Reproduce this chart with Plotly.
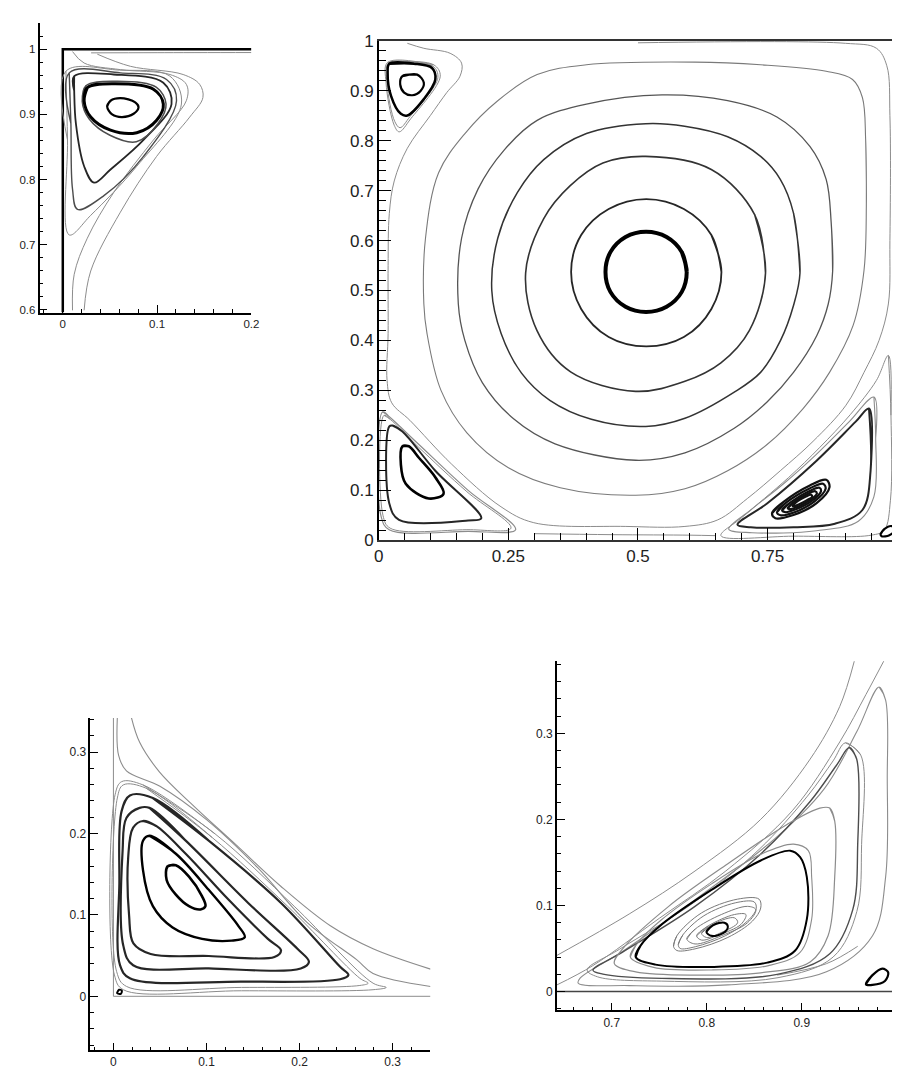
import plotly.graph_objects as go

# ---------------- Panel A : top-left corner vortex (zoom) ----------------
A_IN = [(0.047, 0.9125), (0.0506, 0.921), (0.0611, 0.925), (0.0768, 0.9186), (0.0803, 0.911),
        (0.0751, 0.901), (0.0628, 0.896), (0.0523, 0.900)]
A_L2 = [(0.0226, 0.921), (0.026, 0.941), (0.0541, 0.947), (0.0961, 0.9386), (0.1066, 0.916),
        (0.0995, 0.891), (0.0785, 0.872), (0.0506, 0.8758), (0.0296, 0.896)]
A_L2B = [(0.0206, 0.92), (0.0245, 0.944), (0.054, 0.951), (0.099, 0.942), (0.1095, 0.916),
         (0.101, 0.886), (0.078, 0.858), (0.050, 0.868), (0.028, 0.893)]
A_L3 = [(0.0121, 0.9362), (0.0121, 0.9588), (0.0541, 0.9613), (0.1066, 0.9487), (0.1153, 0.916),
        (0.0856, 0.8608), (0.0506, 0.8155), (0.0331, 0.7953), (0.0226, 0.8205), (0.0139, 0.8858)]
A_L4 = [(0.0086, 0.8858), (0.0068, 0.9638), (0.0611, 0.9638), (0.110, 0.9537), (0.1206, 0.921),
        (0.0856, 0.8356), (0.0436, 0.7753), (0.0156, 0.7541), (0.0103, 0.7854)]
A_L5 = [(0.005, 0.8608), (0.0033, 0.9664), (0.06, 0.968), (0.1136, 0.9588), (0.1258, 0.916),
        (0.0785, 0.8205), (0.0296, 0.7451), (0.0068, 0.715)]
A_OA = [(0.0103, 0.9965), (0.0226, 0.9789), (0.0611, 0.9688), (0.1136, 0.9613), (0.131, 0.9462),
        (0.131, 0.9211), (0.0961, 0.8608), (0.054, 0.7802), (0.026, 0.71), (0.0121, 0.6546), (0.0103, 0.5993)]
A_OB = [(0.0366, 0.9925), (0.0716, 0.9739), (0.1276, 0.9613), (0.1451, 0.9462), (0.1486, 0.926),
        (0.1346, 0.896), (0.0995, 0.8356), (0.0611, 0.75), (0.0296, 0.6596), (0.0226, 0.5993)]
A_LID = [(0.03, 0.9945), (0.1, 0.9948), (0.2, 0.995)]
A_WALL = [(0.0, 0.5958), (0.0, 1.0), (0.2, 1.0)]

# ---------------- Panel B : full cavity ----------------
B_C1 = [(0.594, 0.537), (0.5845, 0.5768), (0.5552, 0.607), (0.5156, 0.6176), (0.476, 0.607),
        (0.4468, 0.5768), (0.4373, 0.537), (0.4468, 0.4972), (0.476, 0.4674), (0.5156, 0.457),
        (0.5552, 0.4674), (0.5845, 0.4972)]
B_C2 = [(0.661, 0.537), (0.6416, 0.611), (0.5885, 0.6632), (0.516, 0.683), (0.4435, 0.6632),
        (0.3904, 0.611), (0.371, 0.537), (0.3904, 0.463), (0.4435, 0.4068), (0.516, 0.388),
        (0.5885, 0.4068), (0.6416, 0.463)]
B_C3 = [(0.746, 0.535), (0.725, 0.652), (0.6414, 0.7423), (0.515, 0.7685), (0.4323, 0.7553),
        (0.3688, 0.7095), (0.3182, 0.644), (0.2833, 0.535), (0.305, 0.42), (0.37, 0.337),
        (0.4956, 0.298), (0.5906, 0.318), (0.66, 0.355), (0.715, 0.42)]
B_C4 = [(0.8125, 0.535), (0.8, 0.655), (0.7745, 0.7226), (0.7365, 0.7685), (0.673, 0.8078),
        (0.59, 0.829), (0.515, 0.834), (0.4006, 0.8143), (0.3182, 0.762), (0.2675, 0.6963),
        (0.2295, 0.6046), (0.218, 0.5), (0.236, 0.414), (0.275, 0.335), (0.33, 0.28),
        (0.41, 0.242), (0.515, 0.2276), (0.5906, 0.244), (0.6857, 0.2964), (0.7365, 0.336),
        (0.775, 0.40), (0.8, 0.47)]
B_C5 = [(0.8755, 0.5387), (0.8726, 0.637), (0.863, 0.7226), (0.8316, 0.7885), (0.768, 0.8475),
        (0.673, 0.880), (0.5464, 0.8917), (0.4006, 0.8733), (0.3055, 0.8407), (0.2422, 0.7817),
        (0.1914, 0.703), (0.1597, 0.6046), (0.1534, 0.4734), (0.166, 0.40), (0.20, 0.315),
        (0.26, 0.243), (0.34, 0.193), (0.4956, 0.16), (0.5906, 0.175), (0.6857, 0.2242),
        (0.749, 0.2767), (0.80, 0.336), (0.845, 0.41), (0.867, 0.473)]
B_C6 = [(0.9405, 0.6702), (0.9392, 0.8013), (0.9329, 0.8865), (0.9139, 0.9225), (0.863, 0.939),
        (0.7365, 0.952), (0.6096, 0.9573), (0.4006, 0.952), (0.3055, 0.9323), (0.2295, 0.88),
        (0.1662, 0.8143), (0.1154, 0.7357), (0.0901, 0.6046), (0.0869, 0.4734), (0.093, 0.414),
        (0.12, 0.30), (0.17, 0.215), (0.25, 0.145), (0.35, 0.105), (0.4956, 0.09), (0.5906, 0.103),
        (0.673, 0.139), (0.749, 0.1916), (0.8185, 0.2636), (0.8695, 0.336), (0.915, 0.43),
        (0.936, 0.54)]
B_C7 = [(0.0551, 0.995), (0.0869, 0.985), (0.1376, 0.975), (0.1597, 0.9553), (0.1566, 0.929),
        (0.1312, 0.8964), (0.0996, 0.8505), (0.0551, 0.7848), (0.0298, 0.7193), (0.0203, 0.6538),
        (0.018, 0.55), (0.018, 0.414), (0.016, 0.32), (0.025, 0.275), (0.06, 0.24), (0.1407, 0.152),
        (0.2357, 0.0669), (0.299, 0.035), (0.4766, 0.0275), (0.5906, 0.0275), (0.654, 0.0407),
        (0.711, 0.0834), (0.7745, 0.139), (0.8378, 0.198), (0.9012, 0.2702), (0.936, 0.336),
        (0.965, 0.40), (0.983, 0.473), (0.986, 0.6), (0.986, 0.85), (0.98, 0.95), (0.96, 0.985),
        (0.9, 0.995), (0.5, 0.996)]
B_C8 = [(0.30, 0.013), (0.45, 0.011), (0.60, 0.010), (0.65, 0.009)]
B_TL_IN = [(0.0456, 0.9292), (0.0741, 0.9323), (0.0869, 0.916), (0.0806, 0.8997), (0.0646, 0.891),
           (0.0489, 0.8963), (0.0413, 0.9127)]
B_TL_MID = [(0.0203, 0.954), (0.0679, 0.954), (0.1027, 0.9455), (0.1091, 0.9225), (0.0869, 0.8832),
            (0.0551, 0.8505), (0.0426, 0.8537), (0.0236, 0.8898), (0.0171, 0.9357)]
B_TL_OUT = [(0.0171, 0.9567), (0.1059, 0.952), (0.1186, 0.9292), (0.0616, 0.8438), (0.0394, 0.8177),
            (0.0298, 0.8308), (0.014, 0.916)]
B_TL_OUT2 = [(0.019, 0.9555), (0.104, 0.9495), (0.114, 0.926), (0.06, 0.848), (0.041, 0.826),
             (0.031, 0.838), (0.016, 0.914)]
B_LL_IN = [(0.0458, 0.188), (0.058, 0.188), (0.0774, 0.165), (0.109, 0.126), (0.125, 0.0932),
           (0.0964, 0.0834), (0.052, 0.113), (0.0426, 0.152)]
B_LL_MID = [(0.0266, 0.2295), (0.0456, 0.2177), (0.109, 0.139), (0.1977, 0.044), (0.1724, 0.0393),
            (0.039, 0.0407), (0.0203, 0.0735), (0.0203, 0.2277)]
B_LL_OUT = [(0.0076, 0.257), (0.0203, 0.247), (0.0774, 0.1916), (0.1724, 0.0997), (0.264, 0.021),
            (0.1724, 0.0177), (0.02, 0.021), (0.0046, 0.047)]
B_LL_OUT2 = [(0.010, 0.25), (0.022, 0.242), (0.077, 0.186), (0.17, 0.097), (0.255, 0.024),
             (0.17, 0.021), (0.022, 0.024), (0.008, 0.05)]
B_LR_G1 = [(0.983, 0.37), (0.988, 0.25), (0.987, 0.08), (0.975, 0.02), (0.95, 0.01), (0.80, 0.008),
           (0.66, 0.009), (0.70, 0.045), (0.79, 0.125), (0.85, 0.185), (0.91, 0.252), (0.96, 0.32)]
B_LR_G2 = [(0.9551, 0.2866), (0.9585, 0.2046), (0.955, 0.0866), (0.925, 0.038), (0.844, 0.019),
           (0.72, 0.015), (0.675, 0.022), (0.7175, 0.0604), (0.7808, 0.1129), (0.8441, 0.1719),
           (0.9076, 0.2374)]
B_LR_THK = [(0.9456, 0.2636), (0.9487, 0.139), (0.9329, 0.0604), (0.88, 0.033), (0.80, 0.026),
            (0.7175, 0.026), (0.692, 0.0309), (0.749, 0.0735), (0.844, 0.1587), (0.920, 0.2374)]
B_LR_B1 = [(0.7586, 0.0539), (0.7808, 0.0767), (0.8315, 0.1096), (0.8631, 0.1208), (0.8695, 0.1062),
           (0.844, 0.0735), (0.7998, 0.0505), (0.765, 0.044)]
B_LR_B2 = [(0.768, 0.056), (0.787, 0.076), (0.830, 0.103), (0.857, 0.113), (0.862, 0.103),
           (0.840, 0.077), (0.802, 0.056), (0.775, 0.050)]
B_LR_B3 = [(0.778, 0.060), (0.795, 0.076), (0.828, 0.097), (0.850, 0.105), (0.853, 0.098),
           (0.836, 0.079), (0.805, 0.062), (0.784, 0.056)]
B_LR_B4 = [(0.789, 0.064), (0.802, 0.077), (0.826, 0.092), (0.842, 0.098), (0.845, 0.093),
           (0.832, 0.080), (0.808, 0.067), (0.793, 0.062)]
B_LR_B5 = [(0.798, 0.069), (0.808, 0.078), (0.823, 0.087), (0.834, 0.091), (0.836, 0.087),
           (0.826, 0.080), (0.811, 0.072), (0.801, 0.068)]
B_LR_CORNER = [(0.968, 0.012), (0.975, 0.022), (0.99, 0.028), (0.995, 0.02), (0.985, 0.01), (0.97, 0.008)]

# ---------------- Panel C : bottom-left corner vortex (zoom) ----------------
C_L1 = [(0.0583, 0.1598), (0.0671, 0.161), (0.0812, 0.147), (0.0953, 0.1228), (0.0989, 0.1107),
        (0.0936, 0.1067), (0.0812, 0.1107), (0.0671, 0.1248), (0.0572, 0.1429)]
C_L2 = [(0.0388, 0.1973), (0.0671, 0.1751), (0.1024, 0.1308), (0.1342, 0.0866), (0.1412, 0.0725),
        (0.1271, 0.0684), (0.0953, 0.0705), (0.0636, 0.0845), (0.0424, 0.1107), (0.0318, 0.155),
        (0.0318, 0.1912)]
C_L3 = [(0.0318, 0.2154), (0.0459, 0.2093), (0.0777, 0.1751), (0.1236, 0.1188), (0.166, 0.0705),
        (0.1801, 0.0564), (0.173, 0.0483), (0.1024, 0.0495), (0.04, 0.052), (0.0215, 0.065),
        (0.0169, 0.0986), (0.0159, 0.1711), (0.0212, 0.2073)]
C_L4 = [(0.0388, 0.2315), (0.0777, 0.1912), (0.1448, 0.1147), (0.1977, 0.0584), (0.2101, 0.0423),
        (0.2013, 0.0342), (0.1024, 0.0342), (0.0212, 0.0382), (0.0106, 0.0624), (0.0099, 0.1791),
        (0.0141, 0.2194), (0.0282, 0.2315)]
C_L5 = [(0.0424, 0.2436), (0.1024, 0.1912), (0.1801, 0.1147), (0.2436, 0.0362), (0.2525, 0.0262),
        (0.2436, 0.0209), (0.1377, 0.0181), (0.0177, 0.0221), (0.0071, 0.0382), (0.0064, 0.1389),
        (0.0088, 0.2275), (0.0177, 0.2468)]
C_G1 = [(0.0318, 0.2597), (0.1095, 0.1993), (0.1942, 0.1107), (0.279, 0.0161), (0.2931, 0.0109),
        (0.279, 0.0081), (0.1377, 0.0068), (0.0106, 0.0081), (0.0011, 0.0262), (0.0018, 0.2476),
        (0.0088, 0.2637)]
C_G2 = [(0.0353, 0.2556), (0.1059, 0.1953), (0.1871, 0.1107), (0.2648, 0.0221), (0.2737, 0.0161),
        (0.2648, 0.0133), (0.1377, 0.0109), (0.0141, 0.0121), (0.0035, 0.0302), (0.0042, 0.2436),
        (0.0106, 0.2597)]
C_OA = [(0.0042, 0.3422), (0.0056, 0.2959), (0.014, 0.277), (0.05, 0.258), (0.10, 0.217),
        (0.155, 0.158), (0.2083, 0.0906), (0.2613, 0.045), (0.279, 0.028), (0.3407, 0.0121)]
C_OB = [(0.0194, 0.3422), (0.0282, 0.312), (0.0494, 0.2758), (0.0847, 0.2355), (0.1307, 0.1872),
        (0.1801, 0.1349), (0.2331, 0.0866), (0.279, 0.0584), (0.3407, 0.0334)]
C_DOT = [(0.004, 0.004), (0.006, 0.008), (0.009, 0.007), (0.008, 0.003)]
C_WALL = [(0.0, 0.342), (0.0, 0.0), (0.3407, 0.0)]

# ---------------- Panel D : bottom-right corner vortex (zoom) ----------------
D_BLOB_OUT = [(0.765, 0.0525), (0.7685, 0.0647), (0.7945, 0.0913), (0.8325, 0.1073), (0.855, 0.1073),
              (0.8568, 0.097), (0.8481, 0.0818), (0.8222, 0.0628), (0.7876, 0.0495), (0.7685, 0.0476)]
D_BLOB_M0 = [(0.770, 0.0545), (0.775, 0.066), (0.797, 0.088), (0.83, 0.103), (0.850, 0.104),
             (0.852, 0.096), (0.843, 0.082), (0.82, 0.065), (0.788, 0.052), (0.772, 0.050)]
D_BLOB_M1 = [(0.779, 0.0609), (0.7876, 0.0723), (0.8153, 0.0894), (0.8429, 0.0989), (0.8516, 0.0951),
             (0.8429, 0.0799), (0.8153, 0.0647), (0.7876, 0.0552)]
D_BLOB_M2 = [(0.7893, 0.0647), (0.8014, 0.0761), (0.8291, 0.0894), (0.8412, 0.0894), (0.836, 0.078),
             (0.8118, 0.0654), (0.7945, 0.0597)]
D_BLOB_M3 = [(0.7945, 0.0677), (0.8083, 0.0791), (0.8291, 0.0856), (0.8325, 0.0799), (0.8153, 0.0685),
             (0.7996, 0.0628)]
D_BLOB_IN = [(0.7996, 0.0693), (0.8065, 0.0769), (0.8186, 0.0799), (0.8222, 0.0753), (0.817, 0.0677),
             (0.8048, 0.0647)]
D_THK = [(0.7252, 0.04), (0.7303, 0.0533), (0.7528, 0.078), (0.8049, 0.118), (0.8568, 0.1522),
         (0.8879, 0.1636), (0.8983, 0.156), (0.9053, 0.1332), (0.9053, 0.0837), (0.8931, 0.0476),
         (0.8637, 0.0335), (0.8049, 0.0285), (0.746, 0.0312)]
D_THK_G = [(0.7195, 0.04), (0.727, 0.056), (0.752, 0.083), (0.805, 0.125), (0.858, 0.16),
           (0.8914, 0.1712), (0.9069, 0.1636), (0.9104, 0.1332), (0.9104, 0.0837), (0.898, 0.045),
           (0.865, 0.030), (0.805, 0.025), (0.744, 0.028)]
D_L3 = [(0.9295, 0.2131), (0.9347, 0.1979), (0.9347, 0.1332), (0.9277, 0.0647), (0.9088, 0.0342),
        (0.8568, 0.0217), (0.7876, 0.019), (0.7252, 0.0228), (0.7027, 0.0323), (0.7114, 0.0495),
        (0.7599, 0.0989), (0.8222, 0.1484), (0.8845, 0.1941), (0.919, 0.2131)]
D_L4 = [(0.9502, 0.2835), (0.9578, 0.2702), (0.9589, 0.1712), (0.9537, 0.0951), (0.9295, 0.0438),
        (0.8741, 0.0198), (0.7528, 0.0152), (0.6906, 0.0202), (0.6802, 0.0247), (0.7114, 0.0457),
        (0.7876, 0.0989), (0.8568, 0.1598), (0.9088, 0.2207), (0.9364, 0.2626)]
D_L4B = [(0.946, 0.289), (0.962, 0.275), (0.963, 0.171), (0.958, 0.093), (0.933, 0.040), (0.875, 0.016),
         (0.752, 0.012), (0.685, 0.017), (0.674, 0.025), (0.708, 0.049), (0.786, 0.103), (0.855, 0.165),
         (0.906, 0.227), (0.933, 0.268)]
D_L5 = [(0.9814, 0.3539), (0.9883, 0.3387), (0.99, 0.2473), (0.9883, 0.1332), (0.9745, 0.0647),
        (0.926, 0.0228), (0.8222, 0.0076), (0.7183, 0.0068), (0.6647, 0.0095), (0.6664, 0.0152),
        (0.712, 0.047), (0.787, 0.106), (0.872, 0.178), (0.924, 0.236), (0.958, 0.302)]
D_OA = [(0.6422, 0.0419), (0.7183, 0.09), (0.7876, 0.14), (0.8568, 0.20), (0.9088, 0.27),
        (0.9399, 0.331), (0.9554, 0.3843)]
D_OB = [(0.6422, 0.0076), (0.68, 0.03), (0.75, 0.085), (0.82, 0.14), (0.89, 0.21), (0.94, 0.29),
        (0.9675, 0.345), (0.9865, 0.3843)]
D_OC = [(0.9589, 0.0525), (0.926, 0.0323), (0.8741, 0.019)]
D_CORNER = [(0.9675, 0.0084), (0.9745, 0.019), (0.9848, 0.0266), (0.991, 0.0221), (0.9876, 0.0122),
            (0.9745, 0.0076)]
D_FLOOR = [(0.6422, 0.0), (0.995, 0.0)]

BLACK = "#000000"
DARK = "#262626"
MID = "#4d4d4d"
GRAY = "#8c8c8c"

fig = go.Figure()


def add(pts, ax, color, width, closed=True, spline=True):
    xs = [p[0] for p in pts]
    ys = [p[1] for p in pts]
    if closed:
        # wrap around past the start so the spline closes without a kink
        xs += xs[:2]
        ys += ys[:2]
    fig.add_trace(go.Scatter(
        x=xs, y=ys, mode="lines",
        line=dict(color=color, width=width, shape="spline" if spline else "linear", smoothing=1.0),
        xaxis="x" + ax, yaxis="y" + ax, showlegend=False, hoverinfo="skip"))


# Panel A (axes x / y)
A = ""
add(A_WALL, A, BLACK, 2.5, closed=False, spline=False)
add(A_LID, A, GRAY, 1, closed=False)
add(A_OA, A, GRAY, 1, closed=False)
add(A_OB, A, GRAY, 1, closed=False)
add(A_L5, A, GRAY, 1)
add(A_L4, A, MID, 1.4)
add(A_L3, A, DARK, 1.8)
add(A_L2B, A, MID, 1.5)
add(A_L2, A, BLACK, 3)
add(A_IN, A, BLACK, 2.2)

# Panel B (axes x2 / y2)
B = "2"
add(B_C7, B, GRAY, 1, closed=False)
add(B_C8, B, GRAY, 1, closed=False)
add(B_C6, B, "#7a7a7a", 1.1)
add(B_C5, B, "#555555", 1.3)
add(B_C4, B, "#333333", 1.5)
add(B_C3, B, "#333333", 1.6)
add(B_C2, B, DARK, 1.8)
add(B_C1, B, BLACK, 4)
add(B_TL_OUT, B, GRAY, 1)
add(B_TL_OUT2, B, GRAY, 1)
add(B_TL_MID, B, BLACK, 2.5)
add(B_TL_IN, B, BLACK, 2.2)
add(B_LL_OUT, B, GRAY, 1.2)
add(B_LL_OUT2, B, GRAY, 1)
add(B_LL_MID, B, DARK, 2)
add(B_LL_IN, B, BLACK, 2.6)
add(B_LR_G1, B, GRAY, 1)
add(B_LR_G2, B, GRAY, 1.1)
add(B_LR_THK, B, DARK, 2)
for loop in (B_LR_B1, B_LR_B2, B_LR_B3, B_LR_B4, B_LR_B5):
    add(loop, B, "#111111", 2.2)
add(B_LR_CORNER, B, BLACK, 2.2)

# Panel C (axes x3 / y3)
C = "3"
add(C_WALL, C, GRAY, 1, closed=False, spline=False)
add(C_OA, C, GRAY, 1.1, closed=False)
add(C_OB, C, GRAY, 1.1, closed=False)
add(C_G1, C, GRAY, 1)
add(C_G2, C, GRAY, 1)
add(C_L5, C, DARK, 2.2)
add(C_L4, C, DARK, 2.2)
add(C_L3, C, DARK, 2.2)
add(C_L2, C, BLACK, 2.4)
add(C_L1, C, BLACK, 2.6)
add(C_DOT, C, BLACK, 2)

# Panel D (axes x4 / y4)
D = "4"
add(D_FLOOR, D, "#444444", 1.5, closed=False, spline=False)
add(D_OA, D, GRAY, 1, closed=False)
add(D_OB, D, GRAY, 1, closed=False)
add(D_OC, D, GRAY, 1, closed=False)
add(D_L5, D, GRAY, 1.1)
add(D_L4B, D, GRAY, 1)
add(D_L4, D, MID, 1.4)
add(D_L3, D, GRAY, 1.2)
add(D_THK_G, D, GRAY, 1.1)
add(D_THK, D, BLACK, 2)
for loop in (D_BLOB_OUT, D_BLOB_M0, D_BLOB_M1, D_BLOB_M2, D_BLOB_M3):
    add(loop, D, "#7a7a7a", 1)
add(D_BLOB_IN, D, BLACK, 2)
add(D_CORNER, D, BLACK, 2.2)

FONT = "Liberation Sans, Arial, sans-serif"


def axis(domain, rng, tickvals, minor_dtick, size, ticklen, mlen, anchor, mirror=False):
    return dict(domain=domain, range=rng, tickvals=tickvals, showgrid=False, zeroline=False,
                showline=True, linecolor="black", linewidth=1.5, mirror=mirror,
                ticks="inside", ticklen=ticklen, tickwidth=1.2, tickcolor="black",
                minor=dict(ticks="inside", ticklen=mlen, dtick=minor_dtick, tick0=0,
                           tickcolor="black", tickwidth=1, showgrid=False),
                tickfont=dict(family=FONT, size=size, color="#222222"), anchor=anchor)


fig.update_layout(
    width=900, height=1079, margin=dict(l=0, r=0, t=0, b=0),
    paper_bgcolor="white", plot_bgcolor="white", showlegend=False,
    xaxis=axis([0.0389, 0.2778], [-0.0247, 0.2], [0, 0.1, 0.2], 0.02, 11.5, 8, 4, "y"),
    yaxis=axis([0.7136, 0.987], [0.5958, 1.0407], [0.6, 0.7, 0.8, 0.9, 1.0], 0.02, 11.5, 8, 4, "x"),
    xaxis2=axis([0.4214, 1.0], [0, 0.99], [0, 0.25, 0.5, 0.75], 0.05, 17, 12, 7, "y2", mirror=True),
    yaxis2=axis([0.4989, 0.97], [0, 1], [0, 0.1, 0.2, 0.3, 0.4, 0.5, 0.6, 0.7, 0.8, 0.9, 1.0],
                0.02, 17, 12, 7, "x2"),
    xaxis3=axis([0.0963, 0.4797], [-0.0247, 0.3407], [0, 0.1, 0.2, 0.3], 0.02, 12, 8, 4, "y3"),
    yaxis3=axis([0.0176, 0.3312], [-0.0664, 0.342], [0, 0.1, 0.2, 0.3], 0.02, 12, 8, 4, "x3"),
    xaxis4=axis([0.6222, 1.0], [0.6422, 0.995], [0.7, 0.8, 0.9], 0.02, 12, 8, 4, "y4"),
    yaxis4=axis([0.0553, 0.3846], [-0.022, 0.3837], [0, 0.1, 0.2, 0.3], 0.02, 12, 8, 4, "x4"),
)
fig.update_layout(xaxis2=dict(linecolor="#333333"))

# remove the browser's default page margin so the 900x1079 figure fills the window exactly
fig.write_html("out.html", config={"displayModeBar": False},
               post_script="document.documentElement.style.margin='0';"
                           "document.body.style.margin='0';document.body.style.padding='0';")
